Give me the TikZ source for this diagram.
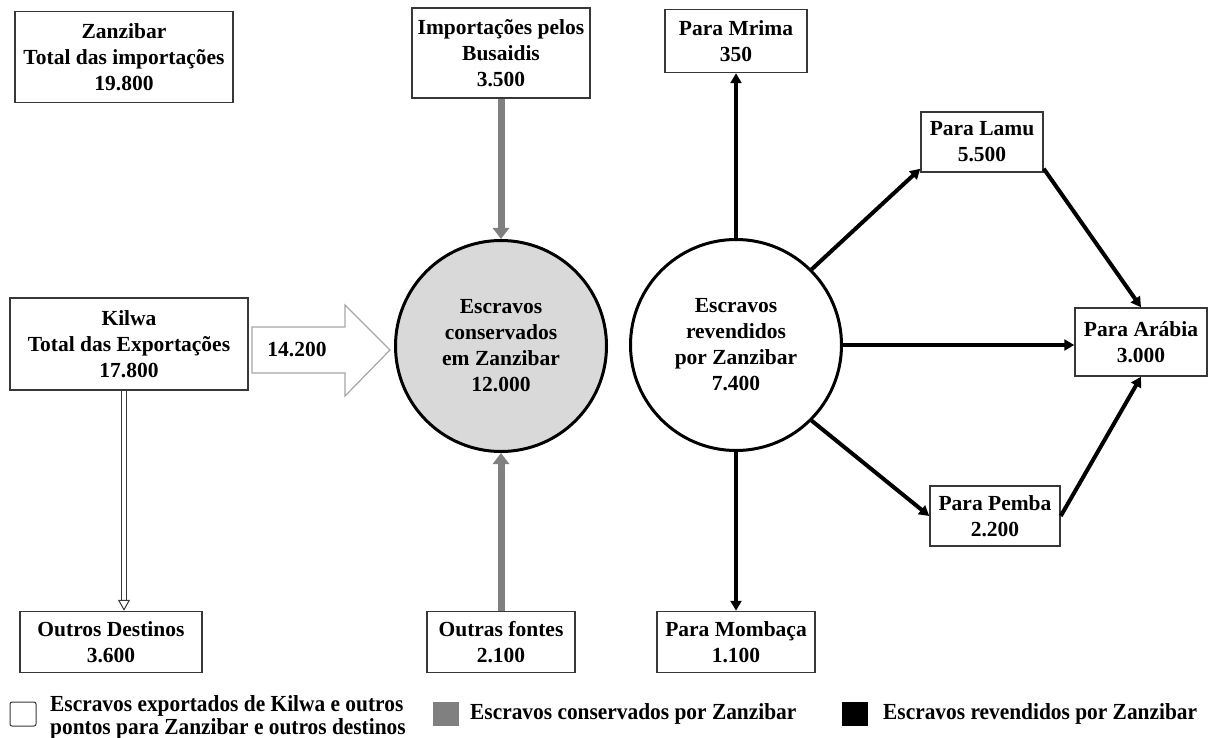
\documentclass[tikz,border=0pt]{standalone}
\usepackage{fontspec}
\setmainfont{Liberation Serif}
\usetikzlibrary{positioning, arrows.meta, calc}
\definecolor{boxLine}{RGB}{55,55,55}
\definecolor{keptGray}{RGB}{128,128,128}
\definecolor{keptFill}{RGB}{217,217,217}

\begin{document}
\begin{tikzpicture}[
  x=1pt, y=-1pt,
  every node/.style={font=\fontsize{21.5}{26}\selectfont\bfseries},
  tally/.style={draw=boxLine, line width=1.5pt, fill=white, align=center, inner sep=0pt},
  pool/.style={circle, draw=black, line width=3pt, minimum size=211pt, align=center, inner sep=0pt},
  resale/.style={line width=4pt, -{Triangle[length=10pt,width=11pt]}},
  kept/.style={keptGray, line width=7pt, -{Triangle[length=11pt,width=16pt]}},
  keybox/.style={minimum width=26pt, minimum height=24pt, inner sep=0pt},
  legend/.style={font=\fontsize{23}{23}\selectfont\bfseries, anchor=west, align=left, inner sep=0pt},
]
  \useasboundingbox (0,0) rectangle (1210,738);

  \node[tally, minimum width=218pt, minimum height=91pt] (zanz)   at (124,57)  {Zanzibar\\Total das importações\\19.800};
  \node[tally, minimum width=178pt, minimum height=90pt] (busa)   at (501,53)  {Importações pelos\\Busaidis\\3.500};
  \node[tally, minimum width=238pt, minimum height=92pt] (kilwa)  at (129,344) {Kilwa\\Total das Exportações\\17.800};
  \node[tally, minimum width=182pt, minimum height=61pt] (dest)   at (111,642) {Outros Destinos\\3.600};
  \node[tally, minimum width=148pt, minimum height=61pt] (fontes) at (501,642) {Outras fontes\\2.100};
  \node[tally, minimum width=142pt, minimum height=63pt] (mrima)  at (736,41)  {Para Mrima\\350};
  \node[tally, minimum width=158pt, minimum height=61pt] (momb)   at (736,642) {Para Mombaça\\1.100};
  \node[tally, minimum width=122pt, minimum height=60pt] (lamu)   at (982,142) {Para Lamu\\5.500};
  \node[tally, minimum width=130pt, minimum height=60pt] (pemba)  at (995,516) {Para Pemba\\2.200};
  \node[tally, minimum width=132pt, minimum height=68pt] (arabia) at (1141,342) {Para Arábia\\3.000};

  \node[pool, fill=keptFill] (cons)   at (501,346) {Escravos\\conservados\\em Zanzibar\\12.000};
  \node[pool, fill=white]    (resold) at (736,345) {Escravos\\revendidos\\por Zanzibar\\7.400};

  \draw[draw=gray!70, line width=1.2pt, fill=white]
    (252,327) -- (345,327) -- (345,305) -- (390,350) -- (345,396) -- (345,373) -- (252,373) -- cycle;
  \node (qty) at (297,350) {14.200};

  \coordinate (kwtop) at ([xshift=-5pt]kilwa.south);
  \coordinate (kwend) at (kwtop |- dest.north);
  \draw[boxLine, line width=1pt, double=white, double distance=4pt, shorten >=10pt] (kwtop) -- (kwend);
  \draw[boxLine, line width=1pt, -{Triangle[open, fill=white, length=11pt, width=12pt]}]
    ($(kwend)+(0,-11)$) -- (kwend);

  \draw[kept] (busa.south) -- (cons.north);
  \draw[kept] (fontes.north) -- (cons.south);

  \draw[resale] (resold.north) -- (mrima.south);
  \draw[resale] (resold.south) -- (momb.north);
  \draw[resale] (resold.45) -- ([yshift=4pt]lamu.south west);
  \draw[resale] (resold.east) -- (resold.east -| arabia.west);
  \draw[resale] (resold.-45) -- (pemba.west);
  \draw[resale] ([yshift=4pt]lamu.south east) -- (arabia.north);
  \draw[resale] (pemba.east) -- (arabia.south);

  \node[keybox, draw=boxLine, line width=1pt, rounded corners=2pt] (keyA) at (23,714) {};
  \node[legend] (keyAtext) at (50,717) {\scalebox{0.93}[1]{Escravos exportados de Kilwa e outros}\\\scalebox{0.93}[1]{pontos para Zanzibar e outros destinos}};
  \node[keybox, fill=keptGray] (keyB) at (446,714) {};
  \node[legend] (keyBtext) at (470,714) {\scalebox{0.93}[1]{Escravos conservados por Zanzibar}};
  \node[keybox, fill=black] (keyC) at (855,714) {};
  \node[legend] (keyCtext) at (883,714) {\scalebox{0.93}[1]{Escravos revendidos por Zanzibar}};
\end{tikzpicture}
\end{document}
